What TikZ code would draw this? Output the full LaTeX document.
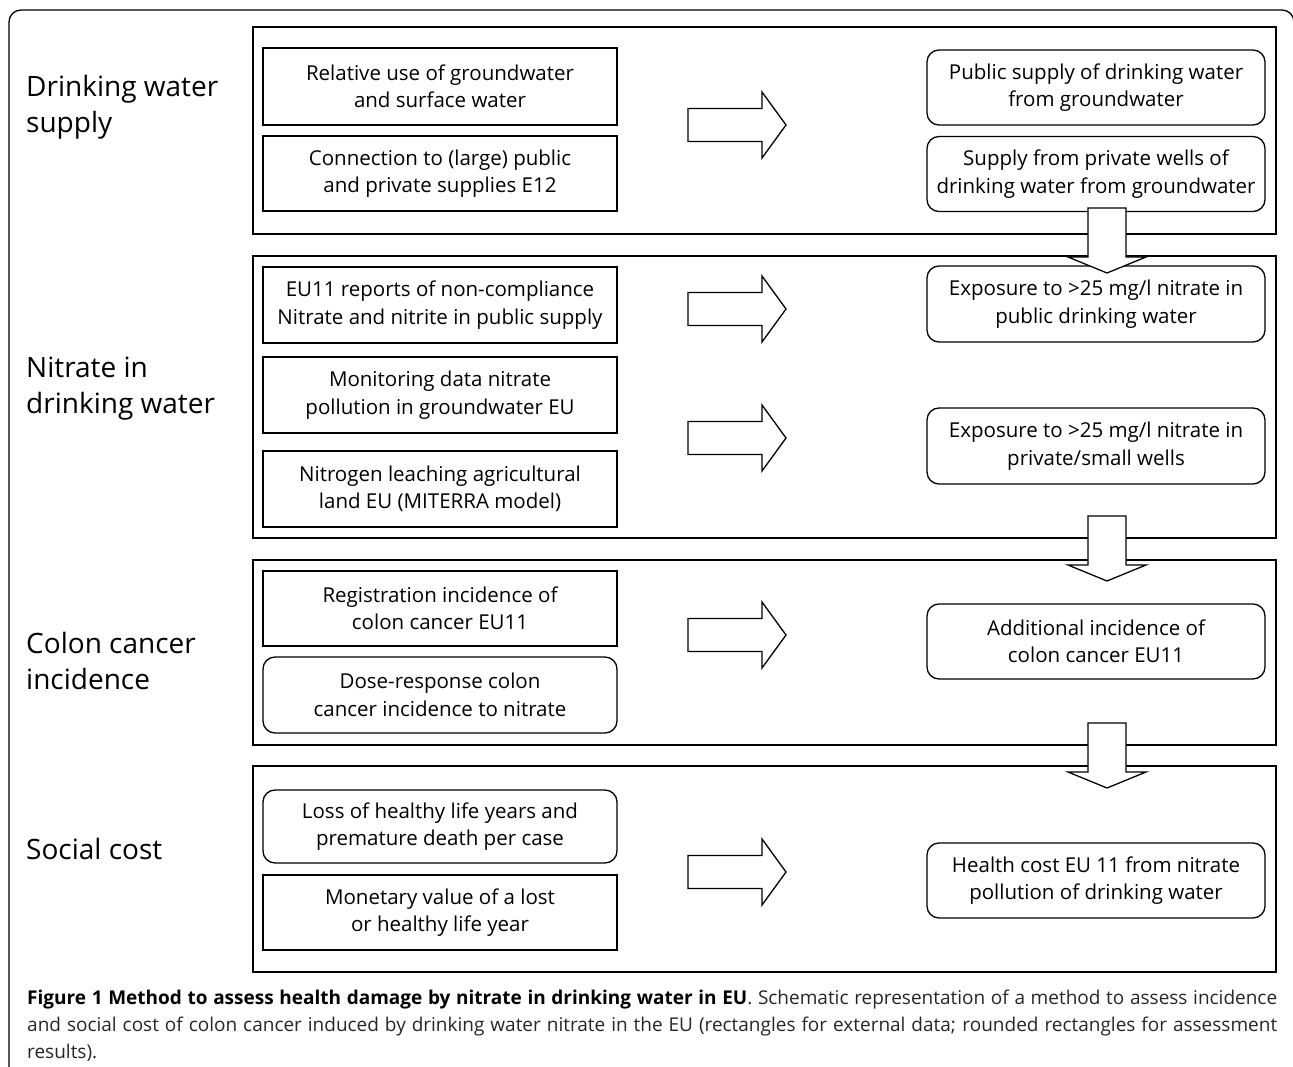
\documentclass[tikz,border=0pt]{standalone}
\usepackage{fontspec}
\setmainfont{Open Sans}
\usetikzlibrary{positioning}

\tikzset{
  datbox/.style={rectangle, draw, line width=1.3pt, minimum width=354pt, minimum height=76pt,
    align=center, inner sep=0pt, font=\fontsize{20.5}{27.5}\selectfont},
  resbox/.style={datbox, rounded corners=12pt, minimum width=338pt, minimum height=75pt},
  title/.style={anchor=west, align=left, inner sep=0pt, font=\fontsize{28}{36}\selectfont},
  panel/.style={line width=1.3pt},
  blockarr/.style={draw, fill=white, line width=1.3pt, line join=miter}
}

% hollow arrow pointing right, centred at height #1
\newcommand{\rightarr}[1]{%
  \draw[blockarr, shift={(0,#1)}] (688,-16.5) -- (762,-16.5) -- (762,-33) -- (786,0)
    -- (762,33) -- (762,16.5) -- (688,16.5) -- cycle;}
% hollow arrow pointing down, shaft starting at height #1
\newcommand{\downarr}[1]{%
  \draw[blockarr, shift={(0,#1)}] (1088,0) -- (1126,0) -- (1126,49) -- (1146,49)
    -- (1107,65) -- (1068,49) -- (1088,49) -- cycle;}

\begin{document}
\begin{tikzpicture}[x=1pt, y=-1pt]
\useasboundingbox (0,0) rectangle (1293,1067);

% outer frame
\draw[line width=1.3pt, rounded corners=12pt] (9,1090) -- (9,10) -- (1294,10) -- (1294,1090);

% Drinking water supply
\draw[panel] (253,27) rectangle (1276,234);
\node[title] (tsupply) at (26,107) {Drinking water\\supply};
\node[datbox, minimum height=77pt] (reluse) at (440,86.5) {Relative use of groundwater\\and surface water};
\node[datbox, minimum height=75pt] (connect) at (440,173.5) {Connection to (large) public\\and private supplies E12};
\node[resbox] (pubsup) at (1096,87.5) {Public supply of drinking water\\from groundwater};
\node[resbox] (privsup) at (1096,174) {Supply from private wells of\\drinking water from groundwater};
\rightarr{125}

% Nitrate in drinking water
\draw[panel] (253,256) rectangle (1276,538);
\node[title] (tnitrate) at (26,389) {Nitrate in\\drinking water};
\node[datbox] (noncomp) at (440,305) {EU11 reports of non-compliance\\Nitrate and nitrite in public supply};
\node[datbox] (monitor) at (440,395) {Monitoring data nitrate\\pollution in groundwater EU};
\node[datbox] (leach) at (440,489) {Nitrogen leaching agricultural\\land EU (MITERRA model)};
\node[resbox, minimum height=76pt] (exppub) at (1096,304) {Exposure to >25 mg/l nitrate in\\public drinking water};
\node[resbox, minimum height=76pt] (exppriv) at (1096,446) {Exposure to >25 mg/l nitrate in\\private/small wells};
\rightarr{309}
\rightarr{438}

% Colon cancer incidence
\draw[panel] (253,560) rectangle (1276,745);
\node[title] (tcancer) at (26,661) {Colon cancer\\incidence};
\node[datbox, minimum height=75pt] (regist) at (440,608.5) {Registration incidence of\\colon cancer EU11};
\node[datbox, rounded corners=12pt] (doseresp) at (440,695) {Dose-response colon\\cancer incidence to nitrate};
\node[resbox] (addinc) at (1096,641.5) {Additional incidence of\\colon cancer EU11};
\rightarr{635}

% Social cost
\draw[panel] (253,766) rectangle (1276,972);
\node[title] (tcost) at (26,849) {Social cost};
\node[datbox, rounded corners=12pt, minimum height=73pt] (lossyears) at (440,826.5) {Loss of healthy life years and\\premature death per case};
\node[datbox, minimum height=75pt] (monvalue) at (440,912.5) {Monetary value of a lost\\or healthy life year};
\node[resbox] (healthcost) at (1096,880.5) {Health cost EU 11 from nitrate\\pollution of drinking water};
\rightarr{872}

% down arrows between the panels
\downarr{208}
\downarr{516}
\downarr{723}

% caption
\node[anchor=base west, inner sep=0pt, text width=1250pt, align=justify,
  font=\fontsize{19}{27}\selectfont, text=black!85] (caption) at (27,1004)
  {{\bfseries\color{black}Figure 1 Method to assess health damage by nitrate in drinking water in EU}. Schematic representation of a method to assess incidence\linebreak
   and social cost of colon cancer induced by drinking water nitrate in the EU (rectangles for external data; rounded rectangles for assessment\linebreak
   results).};

\end{tikzpicture}
\end{document}
